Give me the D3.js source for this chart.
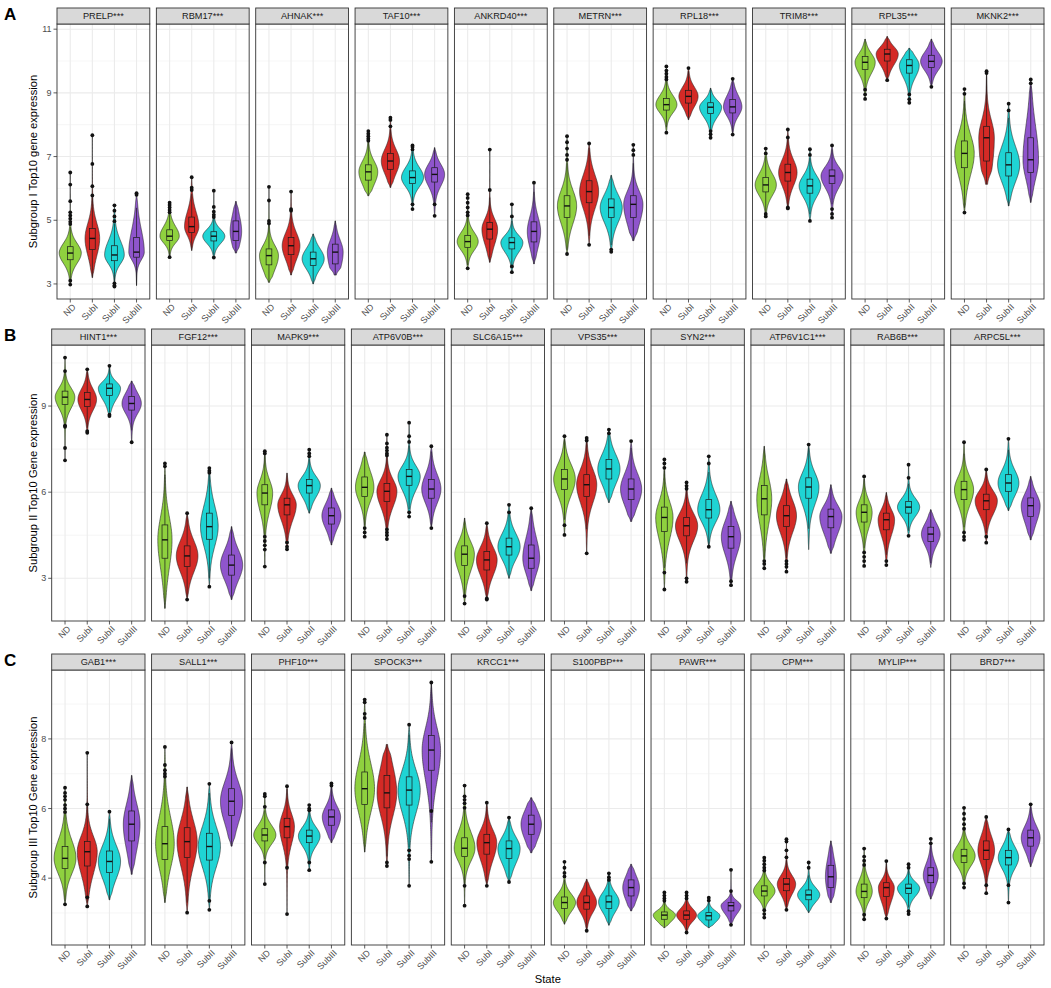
<!DOCTYPE html>
<html><head><meta charset="utf-8">
<script src="https://cdn.jsdelivr.net/npm/d3@7"></script>
<style>
body{margin:0;background:#fff}
svg{display:block}
text{font-family:"Liberation Sans",Arial,Helvetica,sans-serif}
</style>
</head><body>
<svg id="chart" width="1051" height="988"></svg>
<script>
// ---------------- DATA ----------------
const groups = ["ND", "SubI", "SubII", "SubIII"];
const groupColors = ["#8fd13f", "#d42a26", "#1fd4d4", "#8f55cc"];

const genesA = ["PRELP***","RBM17***","AHNAK***","TAF10***","ANKRD40***","METRN***","RPL18***","TRIM8***","RPL35***","MKNK2***"];
const genesB = ["HINT1***","FGF12***","MAPK9***","ATP6V0B***","SLC6A15***","VPS35***","SYN2***","ATP6V1C1***","RAB6B***","ARPC5L***"];
const genesC = ["GAB1***","SALL1***","PHF10***","SPOCK3***","KRCC1***","S100PBP***","PAWR***","CPM***","MYLIP***","BRD7***"];

const ticksA = [3, 5, 7, 9, 11];
const ticksB = [3, 6, 9];
const ticksC = [4, 6, 8];

// each group: [min, q1, median, q3, max]
const statsA = [
  [[2.98,3.76,3.97,4.17,6.5],[3.2,4.08,4.43,4.74,7.67],[2.92,3.73,3.91,4.2,5.47],[2.95,3.84,4.0,4.46,5.85]],
  [[3.84,4.36,4.5,4.7,5.55],[4.05,4.62,4.8,5.1,6.35],[3.83,4.35,4.5,4.64,5.93],[3.97,4.36,4.65,4.98,5.59]],
  [[3.05,3.6,3.89,4.1,6.05],[3.28,3.92,4.2,4.46,5.9],[3.0,3.58,3.79,4.0,4.57],[3.28,3.63,4.0,4.25,4.98]],
  [[5.77,6.26,6.52,6.74,7.8],[6.03,6.6,6.86,7.1,8.22],[5.35,6.15,6.34,6.55,7.35],[5.14,6.2,6.44,6.65,7.28]],
  [[3.49,4.15,4.33,4.52,5.82],[3.68,4.41,4.72,4.93,7.22],[3.37,4.1,4.3,4.45,5.5],[3.63,4.32,4.65,4.95,6.18]],
  [[3.94,5.09,5.45,5.77,7.64],[4.23,5.55,5.9,6.24,7.41],[4.01,5.09,5.4,5.67,6.41],[4.36,5.09,5.5,5.77,7.37]],
  [[7.75,8.46,8.63,8.82,9.83],[8.16,8.68,8.89,9.08,9.78],[7.59,8.35,8.55,8.69,9.15],[7.69,8.37,8.56,8.79,9.44]],
  [[5.12,5.89,6.11,6.34,7.25],[5.37,6.23,6.5,6.76,7.85],[4.98,5.85,6.08,6.29,7.23],[5.08,6.15,6.39,6.58,7.35]],
  [[8.81,9.73,9.96,10.14,10.69],[9.4,10.0,10.22,10.37,10.77],[8.69,9.62,9.86,10.04,10.4],[9.19,9.8,9.99,10.18,10.69]],
  [[5.24,6.65,7.1,7.49,9.12],[6.13,6.86,7.59,7.95,9.68],[5.45,6.39,6.74,7.12,8.66],[5.56,6.5,6.9,7.59,9.42]]
];
const outliersA = [
  [[6.5,6.12,5.6,5.25,5.15,5.05,4.95,4.88,3.1,2.98],[7.67,6.77,6.07,5.78],[5.47,5.3,5.12,4.97,3.02,2.95,2.92],[5.85,5.8]],
  [[5.55,5.48,5.4,5.32,5.25,3.84],[6.35,6.02,5.95],[5.93,5.42,5.27,5.17,5.1,3.83],[]],
  [[6.05,5.62,4.98,4.9],[5.9,5.35,5.3],[],[]],
  [[7.8,7.72,7.64,7.56,7.5],[8.22,8.15,7.95],[7.35,7.3,7.22,5.5,5.35],[5.5,5.14]],
  [[5.82,5.7,5.55,5.4,5.25,5.15,3.49],[7.22,5.95],[5.5,5.12,3.55,3.37],[6.18]],
  [[7.64,7.45,7.25,7.05,6.9,3.94],[7.41,4.23],[4.08,4.01],[7.37,7.2,7.05]],
  [[9.83,9.7,9.6,9.5,9.42,7.75],[9.78],[7.8,7.7,7.59],[9.44,7.69]],
  [[7.25,7.1,5.2,5.12],[7.85,7.6,5.4,5.37],[7.23,7.05,4.98],[7.35,5.35,5.2,5.08]],
  [[9.1,8.95,8.81],[9.4],[8.95,8.8,8.69],[9.19]],
  [[9.12,8.97,5.24],[9.68,9.62],[8.66,8.45],[9.42,9.3]]
];

const statsB = [
  [[7.11,9.06,9.31,9.52,10.69],[8.07,8.98,9.23,9.47,10.28],[8.65,9.37,9.62,9.77,10.4],[7.74,8.86,9.09,9.33,9.87]],
  [[1.95,3.7,4.34,4.86,7.0],[2.26,3.41,3.78,4.13,5.27],[2.71,4.36,4.8,5.27,6.84],[2.26,3.11,3.46,3.81,4.8]],
  [[3.41,5.56,5.97,6.26,7.43],[4.01,5.21,5.56,5.79,6.67],[5.27,5.97,6.23,6.44,7.48],[4.16,4.89,5.18,5.45,6.14]],
  [[4.45,5.85,6.17,6.53,7.4],[4.37,5.68,6.03,6.3,8.0],[5.15,6.24,6.55,6.79,8.42],[4.75,5.79,6.11,6.44,7.6]],
  [[2.12,3.45,3.84,4.13,5.1],[2.26,3.29,3.64,3.93,4.92],[3.0,3.81,4.1,4.4,5.56],[2.57,3.35,3.7,4.16,5.44]],
  [[4.51,6.09,6.46,6.79,7.95],[3.87,5.85,6.26,6.61,7.89],[5.64,6.46,6.81,7.14,8.18],[4.98,5.74,6.11,6.46,7.78]],
  [[2.61,4.63,5.12,5.48,7.14],[2.88,4.48,4.83,5.12,6.34],[4.1,5.1,5.39,5.74,7.25],[2.76,4.05,4.45,4.8,5.68]],
  [[3.35,5.21,5.77,6.23,7.6],[3.23,4.8,5.18,5.53,6.46],[4.0,5.79,6.18,6.5,7.66],[3.87,4.76,5.15,5.41,6.26]],
  [[3.43,4.96,5.3,5.56,6.55],[3.46,4.69,5.04,5.27,5.99],[4.48,5.27,5.48,5.68,6.96],[3.38,4.28,4.54,4.78,5.39]],
  [[4.34,5.74,6.09,6.38,7.74],[4.24,5.39,5.7,5.93,6.79],[5.36,6.03,6.32,6.61,7.86],[4.34,5.15,5.53,5.8,6.55]]
];
const outliersB = [
  [[10.69,10.22,8.32,8.28,7.54,7.11],[10.28,8.13,8.07],[10.4,8.7,8.65],[7.74]],
  [[7.0,6.9],[5.27,2.26],[6.84,6.75,6.68,2.71],[]],
  [[7.43,7.35,4.45,4.3,4.15,4.0,3.41],[4.25,4.1,4.01],[7.48,7.35,7.25],[]],
  [[4.75,4.6,4.45],[8.0,7.7,7.55,7.45,7.35,7.28,4.7,4.6,4.5,4.37],[8.42,7.95,7.75,5.3,5.15],[7.6,4.75]],
  [[2.38,2.12],[4.92,2.3,2.26],[5.56,5.3],[5.44]],
  [[7.95,4.85,4.51],[7.89,7.8,3.87],[8.18,8.05],[7.78]],
  [[7.14,7.0,6.85,3.2,2.61],[6.34,6.22,6.12,3.0,2.88],[7.25,7.0,4.1],[2.9,2.76]],
  [[3.6,3.5,3.35],[3.6,3.5,3.4,3.23],[7.66],[]],
  [[6.55,3.9,3.75,3.6,3.43],[3.6,3.46],[6.96,6.5,4.48],[]],
  [[7.74,4.6,4.45,4.34],[6.79,4.45,4.24],[7.86],[]]
];

const statsC = [
  [[3.25,4.28,4.57,4.91,6.6],[3.19,4.35,4.76,5.05,7.6],[3.38,4.16,4.48,4.78,5.91],[4.11,5.07,5.55,5.93,6.95]],
  [[3.3,4.54,4.99,5.48,7.77],[3.01,4.59,5.05,5.45,6.62],[3.09,4.52,4.91,5.29,6.71],[4.92,5.8,6.21,6.57,7.9]],
  [[3.83,5.07,5.24,5.42,6.42],[2.97,5.16,5.48,5.72,6.64],[4.23,5.02,5.21,5.38,6.1],[5.02,5.52,5.76,5.96,6.72]],
  [[4.75,6.12,6.57,7.05,9.13],[4.35,6.02,6.45,6.95,7.84],[3.78,6.1,6.53,6.91,8.41],[4.47,7.1,7.68,8.1,9.62]],
  [[3.21,4.62,4.86,5.16,6.66],[3.78,4.69,5.02,5.26,6.17],[3.89,4.57,4.85,5.07,5.74],[4.73,5.26,5.55,5.81,6.31]],
  [[2.68,3.13,3.3,3.46,4.47],[2.49,3.11,3.3,3.49,3.97],[2.65,3.13,3.32,3.49,4.14],[3.06,3.49,3.73,3.95,4.4]],
  [[2.58,2.82,2.94,3.03,3.59],[2.44,2.82,2.94,3.06,3.59],[2.58,2.8,2.92,3.01,3.44],[2.66,3.06,3.21,3.3,4.24]],
  [[2.87,3.49,3.63,3.78,4.59],[3.09,3.64,3.83,3.99,5.12],[3.01,3.38,3.52,3.66,4.45],[3.3,3.73,4.04,4.37,5.07]],
  [[2.82,3.44,3.62,3.83,4.85],[2.84,3.47,3.73,3.87,4.49],[2.97,3.56,3.71,3.83,4.4],[3.4,3.87,4.08,4.3,5.13]],
  [[3.73,4.45,4.64,4.83,6.02],[3.57,4.54,4.8,5.07,5.76],[3.3,4.38,4.59,4.8,5.4],[4.33,4.92,5.16,5.38,6.12]]
];
const outliersC = [
  [[6.6,6.45,6.35,6.25,6.1,6.0,5.9,3.25],[7.6,6.12,3.45,3.19],[5.91],[]],
  [[7.77,7.25,7.1,7.0,6.92],[3.01],[6.71,3.35,3.09],[7.9]],
  [[6.42,6.35,6.05,4.45,3.83],[6.64,4.3,2.97],[6.1,6.0,5.95,4.45,4.23],[6.72,6.66]],
  [[9.13,9.05,8.72,8.6],[4.45,4.35],[8.41,4.8,4.65,4.55,3.78],[9.62,5.93,4.47]],
  [[6.66,6.35,6.25,6.15,6.02,3.78,3.21],[6.17,3.78],[5.74,3.89],[]],
  [[4.47,4.3,4.15,4.05],[2.49],[4.14,4.03,3.95],[]],
  [[3.59,3.5,3.42,3.35],[3.59,3.5,3.42,2.44],[3.44,3.36],[4.24,3.63,2.66]],
  [[4.59,4.5,4.4,4.3,4.22,3.08,2.97,2.87],[5.12,5.05,4.8,4.6,3.09],[4.45,4.3],[]],
  [[4.85,4.62,4.5,4.38,2.95,2.82],[4.49,2.84],[4.4,4.3,3.05,2.97],[5.13,5.0]],
  [[6.02,5.85,5.7,5.55,5.42,3.85,3.73],[5.76,3.8,3.57],[5.4,3.8,3.3],[6.12]]
];

// ---------------- LAYOUT ----------------
const svg = d3.select("#chart");
const RIGHT = 1044;
const rows = [
  {label:"A", title:"Subgroup I Top10 gene expression", genes:genesA, stats:statsA, outs:outliersA, ticks:ticksA, left:57, stripTop:8, top:24, bottom:299},
  {label:"B", title:"Subgroup II Top10 Gene expression", genes:genesB, stats:statsB, outs:outliersB, ticks:ticksB, left:51.7, stripTop:329, top:345, bottom:621},
  {label:"C", title:"Subgroup III Top10 Gene expression", genes:genesC, stats:statsC, outs:outliersC, ticks:ticksC, left:51.7, stripTop:654, top:670, bottom:945}
];

function smooth(t) { t = Math.max(0, Math.min(1, t)); return t*t*(3-2*t); }
function shape(v, s) {
  const med = s[2];
  const sl = Math.max((s[2]-s[1])/0.6745, 0.02);
  const sh = Math.max((s[3]-s[2])/0.6745, 0.02);
  const sig = v < med ? sl : sh;
  const z = (v - med) / sig;
  let d = 0.88*Math.exp(-0.5*z*z) + 0.12*Math.exp(-0.5*(z/2.0)*(z/2.0));
  const dEnd = Math.min(v - s[0], s[4] - v);
  d *= 0.3 + 0.7*smooth(dEnd / (0.45*sig));
  return d;
}

rows.forEach(row => {
  const g = svg.append("g");
  let mn = Infinity, mx = -Infinity;
  row.stats.forEach(f => f.forEach(s => { mn = Math.min(mn, s[0]); mx = Math.max(mx, s[4]); }));
  const pad = (mx - mn) * 0.05;
  const y = d3.scaleLinear().domain([mn - pad, mx + pad]).range([row.bottom, row.top]);
  const fx = d3.scaleBand().domain(row.genes).range([row.left, RIGHT]).paddingInner(0.066).paddingOuter(0);
  const bw = fx.bandwidth();
  const x = d3.scalePoint().domain(groups).range([0, bw]).padding(0.6);
  const step = x.step();
  const majors = row.ticks;
  const tstep = majors[1] - majors[0];
  const minors = [];
  for (let t = majors[0] - tstep/2; t <= y.domain()[1]; t += tstep) if (t >= y.domain()[0]) minors.push(t);

  row.genes.forEach((gene, gi) => {
    const px = fx(gene);
    const pg = g.append("g").attr("transform", `translate(${px},0)`);
    pg.append("rect").attr("x",0).attr("y",row.top).attr("width",bw).attr("height",row.bottom-row.top).attr("fill","#fff");
    pg.selectAll(".mi").data(minors).join("line")
      .attr("x1",0).attr("x2",bw).attr("y1",d=>y(d)).attr("y2",d=>y(d))
      .attr("stroke","#f0f0f0").attr("stroke-width",0.6);
    pg.selectAll(".ma").data(majors).join("line")
      .attr("x1",0).attr("x2",bw).attr("y1",d=>y(d)).attr("y2",d=>y(d))
      .attr("stroke","#ebebeb").attr("stroke-width",1.1);
    pg.selectAll(".vg").data(groups).join("line")
      .attr("x1",d=>x(d)).attr("x2",d=>x(d)).attr("y1",row.top).attr("y2",row.bottom)
      .attr("stroke","#ebebeb").attr("stroke-width",1.1);

    const st = row.stats[gi];
    const peaks = st.map(s => 1/((s[3]-s[1]) + 0.02));
    const pmax = d3.max(peaks);
    const maxHalf = 0.5 * step;

    groups.forEach((grp, k) => {
      const s = st[k];
      const cx = x(grp);
      const hwScale = maxHalf * Math.pow(peaks[k] / pmax, 0.9);
      const N = 100;
      const pts = d3.range(N+1).map(i => { const v = s[0] + (s[4]-s[0]) * i / N; return {v, w: hwScale * shape(v, s)}; });
      const area = d3.area().y(d => y(d.v)).x0(d => cx - d.w).x1(d => cx + d.w).curve(d3.curveBasis);
      pg.append("path").attr("d", area(pts)).attr("fill", groupColors[k])
        .attr("stroke","#262626").attr("stroke-width",0.6);
      const iqr = s[3]-s[1];
      const wLo = Math.max(s[0], s[1]-1.5*iqr), wHi = Math.min(s[4], s[3]+1.5*iqr);
      const boxW = 0.26 * step;
      pg.append("line").attr("x1",cx).attr("x2",cx).attr("y1",y(wHi)).attr("y2",y(s[3])).attr("stroke","#1a1a1a").attr("stroke-width",0.7);
      pg.append("line").attr("x1",cx).attr("x2",cx).attr("y1",y(s[1])).attr("y2",y(wLo)).attr("stroke","#1a1a1a").attr("stroke-width",0.7);
      pg.append("rect").attr("x",cx-boxW/2).attr("width",boxW).attr("y",y(s[3])).attr("height",y(s[1])-y(s[3]))
        .attr("fill",groupColors[k]).attr("stroke","#1a1a1a").attr("stroke-width",0.7);
      pg.append("line").attr("x1",cx-boxW/2).attr("x2",cx+boxW/2).attr("y1",y(s[2])).attr("y2",y(s[2])).attr("stroke","#111").attr("stroke-width",1.4);
      pg.selectAll(null).data(row.outs[gi][k]).join("circle")
        .attr("cx",cx).attr("cy",d=>y(d)).attr("r",1.9).attr("fill","#111");
    });

    pg.append("rect").attr("x",0).attr("y",row.top).attr("width",bw).attr("height",row.bottom-row.top)
      .attr("fill","none").attr("stroke","#333").attr("stroke-width",0.9);
    pg.append("rect").attr("x",0).attr("y",row.stripTop).attr("width",bw).attr("height",row.top-row.stripTop)
      .attr("fill","#d9d9d9").attr("stroke","#333").attr("stroke-width",0.9);
    pg.append("text").attr("x",bw/2).attr("y",(row.stripTop+row.top)/2).attr("dy","0.36em")
      .attr("text-anchor","middle").attr("font-size",9.2).attr("fill","#1a1a1a").text(gene);
    groups.forEach(grp => {
      const cx = x(grp);
      pg.append("line").attr("x1",cx).attr("x2",cx).attr("y1",row.bottom).attr("y2",row.bottom+3.5).attr("stroke","#333").attr("stroke-width",0.8);
      pg.append("text").attr("transform",`translate(${cx+3.5},${row.bottom+6}) rotate(-45)`)
        .attr("text-anchor","end").attr("dy","0.4em").attr("font-size",9).attr("fill","#4d4d4d").text(grp);
    });
  });

  majors.forEach(t => {
    g.append("line").attr("x1",row.left-3.5).attr("x2",row.left).attr("y1",y(t)).attr("y2",y(t)).attr("stroke","#333").attr("stroke-width",0.8);
    g.append("text").attr("x",row.left-5.5).attr("y",y(t)).attr("dy","0.35em").attr("text-anchor","end")
      .attr("font-size",9).attr("fill","#4d4d4d").text(t);
  });
  g.append("text").attr("transform",`translate(37,${(row.top+row.bottom)/2}) rotate(-90)`)
    .attr("text-anchor","middle").attr("font-size",11.2).attr("fill","#000").text(row.title);
  g.append("text").attr("x",4).attr("y",row.stripTop+12).attr("font-size",17).attr("font-weight","bold").attr("fill","#000").text(row.label);
});

svg.append("text").attr("x",(51.7+RIGHT)/2).attr("y",983).attr("text-anchor","middle").attr("font-size",11.2).attr("fill","#000").text("State");
</script>
</body></html>
